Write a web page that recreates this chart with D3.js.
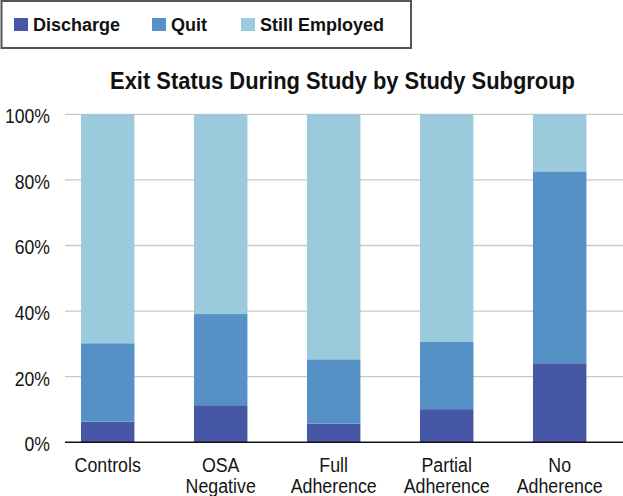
<!DOCTYPE html>
<html><head><meta charset="utf-8">
<script src="https://cdn.jsdelivr.net/npm/d3@7"></script>
<style>
html,body{margin:0;padding:0;background:#fff;}
svg{display:block;}
text{font-family:"Liberation Sans",Arial,sans-serif;}
</style></head>
<body>
<svg id="chart" width="623" height="496"></svg>
<script>
const categories = ["Controls", "OSA Negative", "Full Adherence", "Partial Adherence", "No Adherence"];
const categoryLines = [["Controls"], ["OSA", "Negative"], ["Full", "Adherence"], ["Partial", "Adherence"], ["No", "Adherence"]];
const seriesNames = ["Discharge", "Quit", "Still Employed"];
const discharge = [6.3, 11.3, 5.7, 10.1, 24.1];
const quit = [23.9, 27.8, 19.6, 20.5, 58.5];
const stillEmployed = [69.8, 60.9, 74.7, 69.4, 17.4];
const yTicks = [0, 20, 40, 60, 80, 100];
const title = "Exit Status During Study by Study Subgroup";
const colors = ["#4657a6", "#5591c7", "#9bcadc"];

const svg = d3.select("#chart");
const rows = categories.map((c, i) => ({cat: c, "Discharge": discharge[i], "Quit": quit[i], "Still Employed": stillEmployed[i]}));
const stack = d3.stack().keys(seriesNames)(rows);

const x = d3.scaleBand().domain(categories).range([51.2, 616.2]).paddingInner(0.527).paddingOuter(0.2635);
const y = d3.scaleLinear().domain([0, 100]).range([442.3, 114.3]);
const color = d3.scaleOrdinal().domain(seriesNames).range(colors);

function condense(sel, f) {
  sel.each(function() {
    const w = this.getComputedTextLength();
    d3.select(this).attr("textLength", w * f).attr("lengthAdjust", "spacingAndGlyphs");
  });
}

// gridlines
svg.append("g").selectAll("line").data(yTicks.filter(d => d > 0)).join("line")
  .attr("x1", 65).attr("x2", 623).attr("y1", d => y(d)).attr("y2", d => y(d))
  .attr("stroke", "#c9c9c9").attr("stroke-width", 1.3);

// bars
svg.append("g").selectAll("g").data(stack).join("g")
  .attr("fill", d => color(d.key))
  .selectAll("rect").data(d => d).join("rect")
  .attr("x", d => x(d.data.cat)).attr("width", x.bandwidth())
  .attr("y", d => y(d[1])).attr("height", d => y(d[0]) - y(d[1]));

// x axis baseline
svg.append("line").attr("x1", 65).attr("x2", 623).attr("y1", y(0)).attr("y2", y(0))
  .attr("stroke", "#111").attr("stroke-width", 1.5);

// y axis labels
const yAxis = d3.axisLeft(y).tickValues(yTicks).tickFormat(d => d + "%").tickSize(0).tickPadding(0);
const ya = svg.append("g").attr("transform", "translate(50,0)").call(yAxis);
ya.select(".domain").remove();
ya.selectAll("text").attr("font-size", 20).attr("fill", "#151515").attr("dy", "0.42em")
  .style("font-family", '"Liberation Sans",Arial,sans-serif');
condense(ya.selectAll("text"), 0.88);

// x labels
const xl = svg.append("g").selectAll("text").data(categories).join("text")
  .attr("x", d => x(d) + x.bandwidth() / 2).attr("y", 471.5)
  .attr("text-anchor", "middle").attr("font-size", 20).attr("fill", "#151515");
xl.selectAll("tspan").data((d, i) => categoryLines[i]).join("tspan")
  .attr("x", function() { return d3.select(this.parentNode).attr("x"); })
  .attr("dy", (d, i) => i === 0 ? 0 : 21)
  .text(d => d);
svg.selectAll("tspan").each(function() {
  const w = this.getComputedTextLength();
  d3.select(this).attr("textLength", w * 0.89).attr("lengthAdjust", "spacingAndGlyphs");
});

// title (condensed horizontally via transform)
const tg = svg.append("g").attr("transform", "translate(342.5,89)");
const t = tg.append("text").attr("x", 0).attr("y", 0).attr("text-anchor", "middle")
  .attr("font-size", 24.5).attr("font-weight", "bold").attr("fill", "#111").text(title);
const tw = t.node().getComputedTextLength();
tg.attr("transform", `translate(342.5,89) scale(${465 / tw},1)`);

// legend
svg.append("rect").attr("x", 1.5).attr("y", 1).attr("width", 409.5).attr("height", 47)
  .attr("fill", "#fff").attr("stroke", "#555").attr("stroke-width", 2);
const legendX = [14, 152, 241];
const lg = svg.append("g").selectAll("g").data(seriesNames).join("g")
  .attr("transform", (d, i) => `translate(${legendX[i]},0)`);
lg.append("rect").attr("x", 0).attr("y", 18).attr("width", 14).attr("height", 13).attr("fill", d => color(d));
lg.append("text").attr("x", 19).attr("y", 31).attr("font-size", 18).attr("font-weight", "bold")
  .attr("fill", "#111").text(d => d);
</script>
</body></html>
